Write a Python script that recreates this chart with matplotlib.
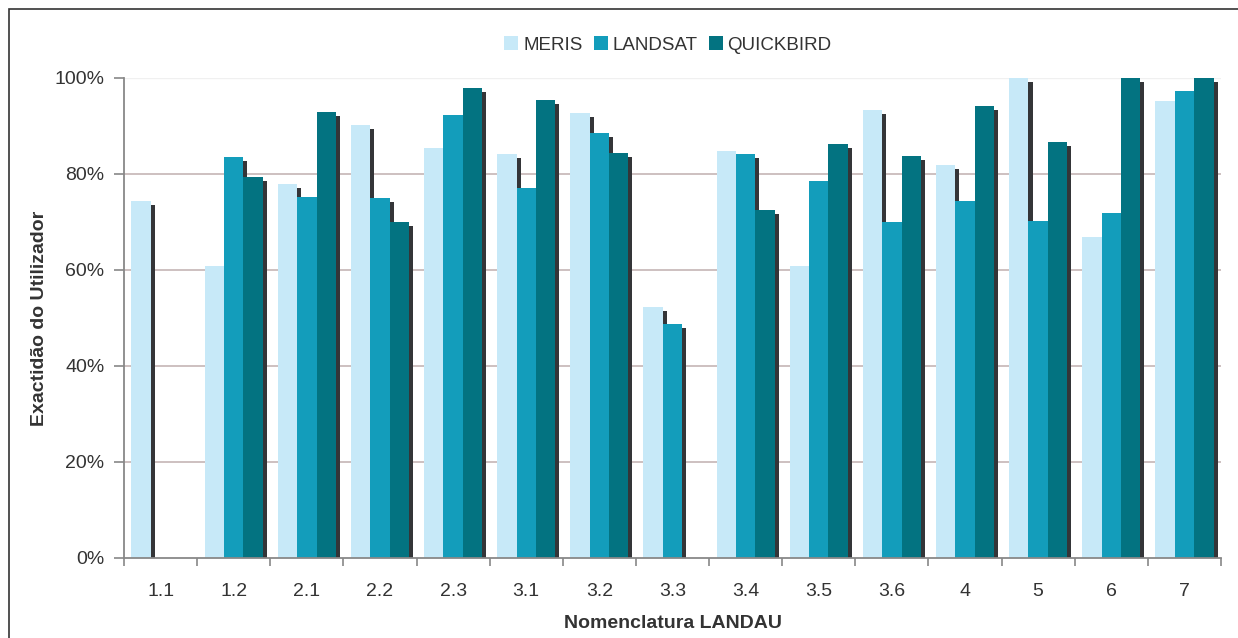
import numpy as np
import matplotlib
matplotlib.use("Agg")
import matplotlib.pyplot as plt
import matplotlib.patheffects as pe
from matplotlib.patches import Rectangle, Patch
from matplotlib.ticker import FixedLocator, PercentFormatter

plt.rcParams['font.family'] = ['Liberation Sans', 'DejaVu Sans']

# accuracy per LANDAU class (%), nan where the sensor has no value
classes = ['1.1', '1.2', '2.1', '2.2', '2.3', '3.1', '3.2', '3.3',
           '3.4', '3.5', '3.6', '4', '5', '6', '7']
meris = [74.4, 60.8, 77.9, 90.2, 85.4, 84.2, 92.7, 52.3,
         84.8, 60.8, 93.3, 81.9, 100.0, 66.9, 95.2]
landsat = [np.nan, 83.5, 75.2, 75.0, 92.3, 77.1, 88.5, 48.8,
           84.2, 78.5, 70.0, 74.4, 70.2, 71.9, 97.3]
quickbird = [np.nan, 79.4, 92.9, 70.0, 97.9, 95.4, 84.4, np.nan,
             72.5, 86.3, 83.8, 94.2, 86.7, 100.0, 100.0]

series = [('MERIS', meris, '#c7e9f8'),
          ('LANDSAT', landsat, '#139dbb'),
          ('QUICKBIRD', quickbird, '#037381')]

fig = plt.figure(figsize=(12.38, 6.38), dpi=100)
ax = fig.add_axes([124/1238, 1 - 558/638, (1221-124)/1238, (558-78)/638])

# frame around the whole chart
fig.patches.append(Rectangle((9/1238, -0.1), 1.2, 1.1 - 9/638,
                             transform=fig.transFigure, fill=False,
                             edgecolor='#333333', linewidth=1.2))

x = np.arange(len(classes))
w = 0.265
shadow = [pe.SimplePatchShadow(offset=(2.9, -2.9), shadow_rgbFace='#343538', alpha=1.0),
          pe.Normal()]
handles = []
for i, (name, vals, col) in enumerate(series):
    bars = ax.bar(x + (i - 1) * w, vals, w, color=col, zorder=3)
    for b in bars:
        b.set_path_effects(shadow)
    handles.append(Patch(facecolor=col, label=name))

ax.set_xlim(-0.5, len(classes) - 0.5)
ax.set_ylim(0, 100)
ax.set_yticks([0, 20, 40, 60, 80, 100])
ax.yaxis.set_major_formatter(PercentFormatter(decimals=0))
for yv in [20, 40, 60, 80]:
    ax.axhline(yv, color='#c9bbbb', linewidth=1.3, zorder=1)
ax.axhline(100, color='#f0f0f0', linewidth=1.0, zorder=1)

ax.set_xticks(x)
ax.set_xticklabels(classes)
ax.xaxis.set_minor_locator(FixedLocator(np.arange(-0.5, len(classes), 1.0)))
ax.tick_params(axis='x', which='major', length=0, pad=18, labelsize=14, labelcolor='#333333')
ax.tick_params(axis='x', which='minor', length=6, width=1.2, color='#888888', direction='out')
ax.tick_params(axis='y', length=7, width=1.2, color='#888888', pad=7,
               labelsize=14, labelcolor='#333333')

for s in ['top', 'right']:
    ax.spines[s].set_visible(False)
for s in ['left', 'bottom']:
    ax.spines[s].set_color('#888888')
    ax.spines[s].set_linewidth(1.3)
ax.spines['bottom'].set_zorder(4)

ax.set_xlabel('Nomenclatura LANDAU', fontsize=14, fontweight='bold', color='#333333')
ax.xaxis.set_label_coords(0.5, -(615 - 558) / 480, transform=ax.transAxes)
ax.set_ylabel('Exactidão do Utilizador', fontsize=14, fontweight='bold', color='#333333')
ax.yaxis.set_label_coords(-(124 - 48) / 1097, 0.5, transform=ax.transAxes)

fig.legend(handles=handles, loc='center', bbox_to_anchor=(668/1238, 1 - 45/638), ncol=3,
           frameon=False, fontsize=13.5, handlelength=0.75, handleheight=0.75,
           handletextpad=0.25, columnspacing=0.6, labelcolor='#333333')

fig.savefig('out.png', dpi=100)
